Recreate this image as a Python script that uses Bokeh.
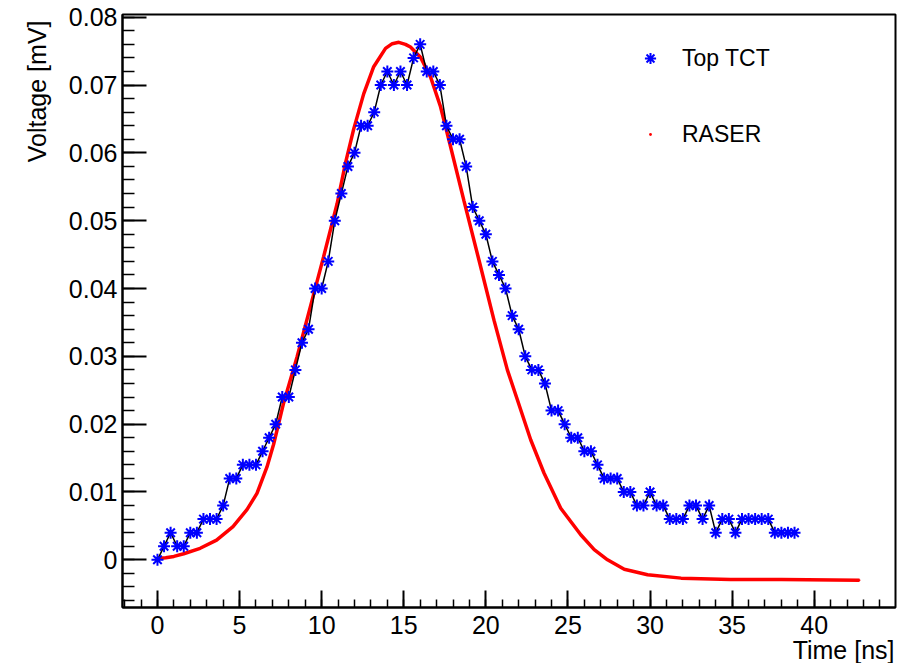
from bokeh.plotting import figure
from bokeh.models import Range1d, SingleIntervalTicker, Legend, LegendItem, Title
from bokeh.embed import file_html
from bokeh.resources import INLINE

# ---- data ----
tct_time = [0.0, 0.4, 0.8, 1.2, 1.6, 2.0, 2.4, 2.8, 3.2, 3.6,
            4.0, 4.4, 4.8, 5.2, 5.6, 6.0, 6.4, 6.8, 7.2, 7.6,
            8.0, 8.4, 8.8, 9.2, 9.6, 10.0, 10.4, 10.8, 11.2, 11.6,
            12.0, 12.4, 12.8, 13.2, 13.6, 14.0, 14.4, 14.8, 15.2, 15.6,
            16.0, 16.4, 16.8, 17.2, 17.6, 18.0, 18.4, 18.8, 19.2, 19.6,
            20.0, 20.4, 20.8, 21.2, 21.6, 22.0, 22.4, 22.8, 23.2, 23.6,
            24.0, 24.4, 24.8, 25.2, 25.6, 26.0, 26.4, 26.8, 27.2, 27.6,
            28.0, 28.4, 28.8, 29.2, 29.6, 30.0, 30.4, 30.8, 31.2, 31.6,
            32.0, 32.4, 32.8, 33.2, 33.6, 34.0, 34.4, 34.8, 35.2, 35.6,
            36.0, 36.4, 36.8, 37.2, 37.6, 38.0, 38.4, 38.8]
tct_voltage = [0.000, 0.002, 0.004, 0.002, 0.002, 0.004, 0.004, 0.006, 0.006, 0.006,
               0.008, 0.012, 0.012, 0.014, 0.014, 0.014, 0.016, 0.018, 0.020, 0.024,
               0.024, 0.028, 0.032, 0.034, 0.040, 0.040, 0.044, 0.050, 0.054, 0.058,
               0.060, 0.064, 0.064, 0.066, 0.070, 0.072, 0.070, 0.072, 0.070, 0.074,
               0.076, 0.072, 0.072, 0.070, 0.064, 0.062, 0.062, 0.058, 0.052, 0.050,
               0.048, 0.044, 0.042, 0.040, 0.036, 0.034, 0.030, 0.028, 0.028, 0.026,
               0.022, 0.022, 0.020, 0.018, 0.018, 0.016, 0.016, 0.014, 0.012, 0.012,
               0.012, 0.010, 0.010, 0.008, 0.008, 0.010, 0.008, 0.008, 0.006, 0.006,
               0.006, 0.008, 0.008, 0.006, 0.008, 0.004, 0.006, 0.006, 0.004, 0.006,
               0.006, 0.006, 0.006, 0.006, 0.004, 0.004, 0.004, 0.004]

raser_time = [0.0, 0.5, 1.0, 1.6, 2.6, 3.6, 4.6, 5.45, 6.06, 6.67,
              7.07, 7.68, 8.5, 9.31, 10.12, 10.94, 11.45, 11.95, 12.56, 13.17,
              13.89, 14.3, 14.7, 15.1, 15.41, 16.02, 16.63, 17.24, 17.75, 18.66,
              19.58, 20.5, 21.31, 21.92, 22.73, 23.54, 24.56, 25.78, 26.6, 27.41,
              28.43, 29.85, 31.89, 34.9, 38.0, 42.76]
raser_voltage = [0.0002, 0.0003, 0.0005, 0.0009, 0.0017, 0.0029, 0.0049, 0.0074, 0.0098, 0.0137,
                 0.0170, 0.0231, 0.0299, 0.0373, 0.0447, 0.0525, 0.0585, 0.0635, 0.0687, 0.0727,
                 0.0754, 0.0761, 0.0763, 0.0760, 0.0756, 0.0741, 0.0712, 0.0668, 0.0619, 0.0530,
                 0.0442, 0.0353, 0.0280, 0.0236, 0.0177, 0.0128, 0.0076, 0.0037, 0.0015, 0.0000,
                 -0.0014, -0.0022, -0.0027, -0.0029, -0.0029, -0.0030]

series_labels = ["Top TCT", "RASER"]
x_title = "Time [ns]"
y_title = "Voltage [mV]"

FONT = "Liberation Sans"
W, H = 897, 663
BL, BR, BT, BB = 122, 2, 14, 56

p = figure(width=W, height=H, output_backend="svg", toolbar_location=None, title=None,
           x_range=Range1d(-2.13, 44.95), y_range=Range1d(-0.00703, 0.0804),
           min_border_left=BL, min_border_right=BR, min_border_top=BT, min_border_bottom=BB)
p.xgrid.visible = False
p.ygrid.visible = False
p.outline_line_color = "black"
p.outline_line_width = 2
p.background_fill_color = "white"
p.border_fill_color = "white"

p.xaxis.ticker = SingleIntervalTicker(interval=5, num_minor_ticks=5)
p.yaxis.ticker = SingleIntervalTicker(interval=0.01, num_minor_ticks=5)
p.yaxis.major_label_overrides = {0: "0"}

for ax in (p.xaxis[0], p.yaxis[0]):
    ax.axis_line_width = 2
    ax.axis_line_color = "black"
    ax.major_tick_line_width = 2
    ax.minor_tick_line_width = 1.5
    ax.major_tick_line_color = "black"
    ax.minor_tick_line_color = "black"
    ax.major_tick_out = 0
    ax.minor_tick_out = 0
    ax.major_label_text_font = FONT
    ax.major_label_text_font_size = "25px"
    ax.major_label_text_color = "black"
p.xaxis.major_tick_in = 17
p.xaxis.minor_tick_in = 8
p.yaxis.major_tick_in = 24
p.yaxis.minor_tick_in = 12
p.xaxis.major_label_standoff = 8
p.yaxis.major_label_standoff = 5

# axis titles as right-aligned titles in the side panels
p.add_layout(Title(text=x_title, align="right", standoff=-6, offset=1,
                   text_font=FONT, text_font_size="25px", text_font_style="normal",
                   text_color="black"), "below")
p.add_layout(Title(text=y_title, align="right", standoff=29, offset=6,
                   text_font=FONT, text_font_size="25px", text_font_style="normal",
                   text_color="black"), "left")

# RASER (dot proxy for legend, hidden under the thick line)
raser_dot = p.scatter(raser_time, raser_voltage, marker="dot", size=7, color="red")
p.line(raser_time, raser_voltage, line_color="red", line_width=3.5)
# Top TCT
p.line(tct_time, tct_voltage, line_color="black", line_width=1.5)
stars = p.scatter(tct_time, tct_voltage, marker="asterisk", size=12,
                  line_color="blue", line_width=2)

legend = Legend(items=[LegendItem(label=series_labels[0], renderers=[stars]),
                       LegendItem(label=series_labels[1], renderers=[raser_dot])],
                location=(514, 459), orientation="vertical",
                border_line_alpha=0, background_fill_alpha=0,
                glyph_width=28, glyph_height=28, label_height=28, spacing=48,
                padding=0, margin=0, label_standoff=18,
                label_text_font=FONT, label_text_font_size="23px", label_text_color="black")
p.add_layout(legend)

open("out.html", "w").write(file_html(p, INLINE))
